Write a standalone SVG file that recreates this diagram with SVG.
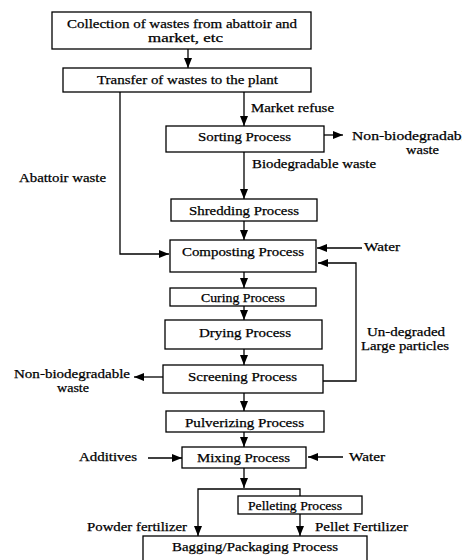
<svg xmlns="http://www.w3.org/2000/svg" width="462" height="560" viewBox="0 0 462 560">
<style>
.box{fill:#fff;stroke:#000;stroke-width:1.3}
.t{font-family:"Liberation Serif","Times New Roman",serif;font-size:13px;fill:#000;stroke:#000;stroke-width:0.25}
.ln{fill:none;stroke:#000;stroke-width:1.3}
</style>
<defs>
<marker id="ah" markerUnits="userSpaceOnUse" markerWidth="10" markerHeight="10" viewBox="0 0 10 10" refX="10" refY="5" orient="auto">
<path d="M0,1 L10,5 L0,9 Z" fill="#000"/>
</marker>
</defs>
<rect width="462" height="560" fill="#fff"/>
<g id="connectors">
<path class="ln" d="M188,49 V68" marker-end="url(#ah)"/>
<path class="ln" d="M244,92 V126" marker-end="url(#ah)"/>
<path class="ln" d="M120,92 V254 H169" marker-end="url(#ah)"/>
<path class="ln" d="M324,135 H343" marker-end="url(#ah)"/>
<path class="ln" d="M244,152 V199" marker-end="url(#ah)"/>
<path class="ln" d="M244,221 V240" marker-end="url(#ah)"/>
<path class="ln" d="M362,248 H317" marker-end="url(#ah)"/>
<path class="ln" d="M323,381 H356 V263 H318" marker-end="url(#ah)"/>
<path class="ln" d="M244,272 V288" marker-end="url(#ah)"/>
<path class="ln" d="M244,306 V320" marker-end="url(#ah)"/>
<path class="ln" d="M244,349 V365" marker-end="url(#ah)"/>
<path class="ln" d="M163,377 H134" marker-end="url(#ah)"/>
<path class="ln" d="M244,393 V411" marker-end="url(#ah)"/>
<path class="ln" d="M244,432 V447" marker-end="url(#ah)"/>
<path class="ln" d="M148,458 H182" marker-end="url(#ah)"/>
<path class="ln" d="M343,457 H308" marker-end="url(#ah)"/>
<path class="ln" d="M244,468 V488" marker-end="url(#ah)"/>
<path class="ln" d="M300,496 V489 H198 V536" marker-end="url(#ah)"/>
<path class="ln" d="M300,514 V536" marker-end="url(#ah)"/>
</g>
<g id="collection">
<rect class="box" x="52" y="12" width="259" height="37"/>
<text class="t" x="67" y="28" textLength="230" lengthAdjust="spacingAndGlyphs">Collection of wastes from abattoir and</text>
<text class="t" x="148" y="42" textLength="75" lengthAdjust="spacingAndGlyphs">market, etc</text>
</g>
<g id="transfer">
<rect class="box" x="63" y="68" width="248" height="24"/>
<text class="t" x="97" y="84" textLength="181" lengthAdjust="spacingAndGlyphs">Transfer of wastes to the plant</text>
</g>
<g id="sorting">
<rect class="box" x="166" y="126" width="158" height="26"/>
<text class="t" x="198" y="141" textLength="93" lengthAdjust="spacingAndGlyphs">Sorting Process</text>
</g>
<g id="shredding">
<rect class="box" x="171" y="199" width="146" height="22"/>
<text class="t" x="189" y="215" textLength="110" lengthAdjust="spacingAndGlyphs">Shredding Process</text>
</g>
<g id="composting">
<rect class="box" x="170" y="240" width="146" height="32"/>
<text class="t" x="182" y="256" textLength="122" lengthAdjust="spacingAndGlyphs">Composting Process</text>
</g>
<g id="curing">
<rect class="box" x="170" y="288" width="146" height="18"/>
<text class="t" x="201" y="302" font-size="12" textLength="84" lengthAdjust="spacingAndGlyphs">Curing Process</text>
</g>
<g id="drying">
<rect class="box" x="165" y="320" width="157" height="29"/>
<text class="t" x="199" y="337" textLength="92" lengthAdjust="spacingAndGlyphs">Drying Process</text>
</g>
<g id="screening">
<rect class="box" x="163" y="365" width="160" height="28"/>
<text class="t" x="188" y="381" textLength="109" lengthAdjust="spacingAndGlyphs">Screening Process</text>
</g>
<g id="pulverizing">
<rect class="box" x="166" y="411" width="158" height="21"/>
<text class="t" x="185" y="427" textLength="119" lengthAdjust="spacingAndGlyphs">Pulverizing Process</text>
</g>
<g id="mixing">
<rect class="box" x="182" y="447" width="124" height="21"/>
<text class="t" x="197" y="462" textLength="93" lengthAdjust="spacingAndGlyphs">Mixing Process</text>
</g>
<g id="pelleting">
<rect class="box" x="238" y="496" width="124" height="18"/>
<text class="t" x="248" y="510" font-size="12" textLength="94" lengthAdjust="spacingAndGlyphs">Pelleting Process</text>
</g>
<g id="bagging">
<rect class="box" x="143" y="536" width="224" height="30"/>
<text class="t" x="172" y="551" textLength="166" lengthAdjust="spacingAndGlyphs">Bagging/Packaging Process</text>
</g>
<g id="labels">
<text class="t" x="251" y="112" textLength="83" lengthAdjust="spacingAndGlyphs">Market refuse</text>
<text class="t" x="352" y="140" textLength="121" lengthAdjust="spacingAndGlyphs">Non-biodegradable</text>
<text class="t" x="406" y="154" textLength="33" lengthAdjust="spacingAndGlyphs">waste</text>
<text class="t" x="252" y="168" textLength="124" lengthAdjust="spacingAndGlyphs">Biodegradable waste</text>
<text class="t" x="19" y="182" textLength="87" lengthAdjust="spacingAndGlyphs">Abattoir waste</text>
<text class="t" x="364" y="251" textLength="36" lengthAdjust="spacingAndGlyphs">Water</text>
<text class="t" x="367" y="336" textLength="78" lengthAdjust="spacingAndGlyphs">Un-degraded</text>
<text class="t" x="361" y="350" textLength="88" lengthAdjust="spacingAndGlyphs">Large particles</text>
<text class="t" x="14" y="378" textLength="116" lengthAdjust="spacingAndGlyphs">Non-biodegradable</text>
<text class="t" x="57" y="392" textLength="32" lengthAdjust="spacingAndGlyphs">waste</text>
<text class="t" x="79" y="461" textLength="58" lengthAdjust="spacingAndGlyphs">Additives</text>
<text class="t" x="349" y="461" textLength="36" lengthAdjust="spacingAndGlyphs">Water</text>
<text class="t" x="87" y="531" textLength="100" lengthAdjust="spacingAndGlyphs">Powder fertilizer</text>
<text class="t" x="315" y="531" textLength="93" lengthAdjust="spacingAndGlyphs">Pellet Fertilizer</text>
</g>
</svg>
